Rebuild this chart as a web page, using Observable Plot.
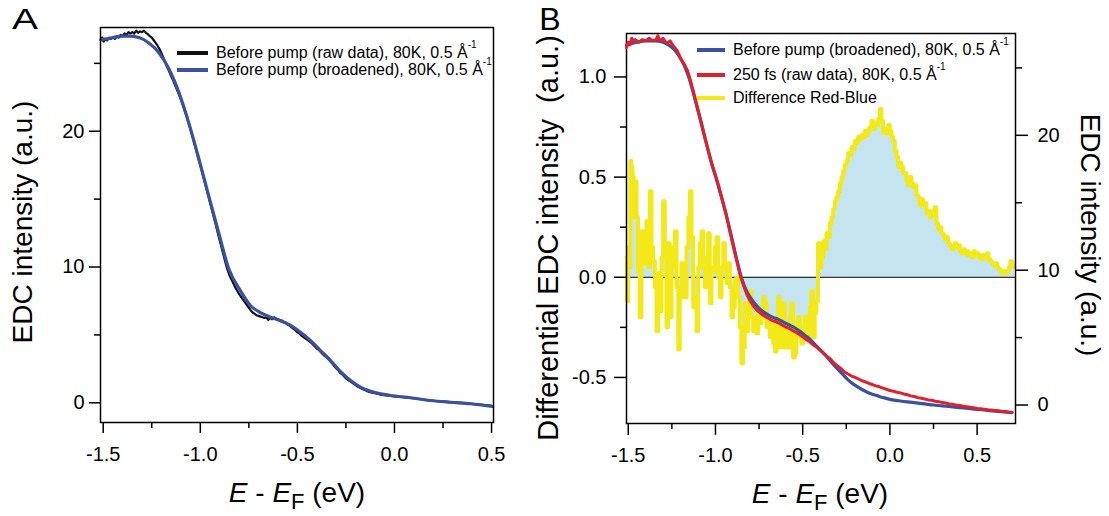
<!DOCTYPE html>
<html><head><meta charset="utf-8">
<script src="https://cdn.jsdelivr.net/npm/d3@7"></script>
<script src="https://cdn.jsdelivr.net/npm/@observablehq/plot@0.6"></script>
<style>
html,body{margin:0;padding:0;background:#fff;}
#wrap{position:relative;width:1109px;height:516px;overflow:hidden;font-family:"Liberation Sans",Arial,sans-serif;color:#000;}
#wrap svg{position:absolute;top:0;}
.t{position:absolute;white-space:pre;line-height:1;}
.sw{position:absolute;height:4px;}
.sup{font-size:10px;position:relative;top:-10px;}
</style></head><body><div id="wrap"></div>
<script>
// ---------- tick values ----------
const xTicks = [-1.5, -1.0, -0.5, 0.0, 0.5];
const xMinorTicks = [-1.25, -0.75, -0.25, 0.25];
const yTicksA = [0, 10, 20];
const yMinorA = [5, 15, 25];
const yTicksBLeft = [-0.5, 0.0, 0.5, 1.0];
const yMinorBLeft = [-0.25, 0.25, 0.75];
const yTicksBRight = [0, 10, 20];
const yMinorBRight = [5, 15, 25];

// ---------- Panel A: before pump raw data (black) ----------
const rawA_E = [-1.512,-1.505,-1.498,-1.49,-1.48,-1.47,-1.46,-1.45,-1.44,-1.43,-1.42,-1.41,-1.40,-1.39,-1.38,-1.37,-1.36,-1.35,-1.34,-1.33,-1.32,-1.31,-1.30,-1.29,-1.28,-1.27,-1.26,-1.25,-1.24,-1.23,-1.22,-1.21,-1.20,-1.19,-1.18,-1.17,-1.16,-1.15,-1.14,-1.13,-1.12,-1.11,-1.10,-1.09,-1.08,-1.07,-1.06,-1.05,-1.04,-1.03,-1.02,-1.01,-1.00,-0.99,-0.98,-0.97,-0.96,-0.95,-0.94,-0.93,-0.92,-0.91,-0.90,-0.89,-0.88,-0.87,-0.86,-0.85,-0.84,-0.83,-0.82,-0.81,-0.80,-0.79,-0.78,-0.77,-0.76,-0.75,-0.74,-0.73,-0.72,-0.71,-0.70,-0.69,-0.68,-0.67,-0.66,-0.65,-0.64,-0.63,-0.62,-0.61,-0.60,-0.59,-0.58,-0.57,-0.56,-0.55,-0.54,-0.53,-0.52,-0.51,-0.50,-0.49,-0.48,-0.47,-0.46,-0.45,-0.44,-0.43,-0.42,-0.41,-0.40,-0.39,-0.38,-0.37,-0.36,-0.35,-0.34,-0.33,-0.32,-0.31,-0.30,-0.29,-0.28,-0.27,-0.26,-0.25,-0.24,-0.23,-0.22,-0.21,-0.20,-0.19,-0.18,-0.17,-0.16,-0.15,-0.14,-0.13,-0.12,-0.10,-0.08,-0.06,-0.04,-0.02,0.0,0.04,0.08,0.12,0.16,0.20,0.24,0.28,0.32,0.36,0.40,0.44,0.48,0.50];
const rawA_I = [26.7,26.9,26.6,26.8,26.7,26.9,26.8,26.9,26.8,27.0,26.9,27.1,27.0,27.2,27.1,27.3,27.2,27.3,27.2,27.4,27.25,27.35,27.3,27.4,27.25,27.15,27.0,26.9,26.7,26.5,26.3,26.05,25.75,25.4,25.05,24.7,24.4,24.05,23.75,23.4,23.05,22.7,22.35,21.95,21.5,21.1,20.6,20.1,19.6,19.05,18.55,18.0,17.5,16.95,16.4,15.85,15.3,14.75,14.2,13.65,13.1,12.5,11.95,11.4,10.85,10.3,9.8,9.4,9.1,8.8,8.5,8.25,8.0,7.8,7.6,7.4,7.2,7.0,6.8,6.65,6.55,6.45,6.4,6.35,6.3,6.25,6.3,6.1,6.25,6.15,6.3,6.2,6.15,6.1,6.05,5.95,5.9,5.75,5.7,5.55,5.45,5.35,5.2,5.1,4.95,4.85,4.75,4.65,4.55,4.45,4.3,4.15,4.0,3.9,3.75,3.6,3.45,3.35,3.2,3.05,2.9,2.7,2.55,2.4,2.2,2.1,1.95,1.8,1.7,1.6,1.5,1.4,1.3,1.2,1.12,1.05,0.98,0.92,0.86,0.8,0.77,0.7,0.63,0.58,0.55,0.5,0.48,0.43,0.37,0.3,0.22,0.15,0.1,0.05,0.02,-0.03,-0.08,-0.13,-0.19,-0.22];

// ---------- Panel A: before pump broadened (blue) ----------
const broadA_E = [-1.512,-1.48,-1.45,-1.40,-1.368,-1.317,-1.265,-1.214,-1.162,-1.110,-1.059,-1.007,-0.956,-0.904,-0.853,-0.793,-0.741,-0.690,-0.638,-0.587,-0.535,-0.484,-0.432,-0.381,-0.329,-0.278,-0.226,-0.175,-0.123,-0.072,-0.020,0.083,0.186,0.289,0.392,0.495,0.505];
const broadA_I = [26.75,26.8,26.9,27.0,27.0,26.9,26.5,25.8,24.6,22.85,20.6,17.95,15.2,12.45,9.85,8.25,7.15,6.65,6.3,6.05,5.7,5.2,4.58,3.85,3.11,2.3,1.64,1.15,0.85,0.66,0.54,0.37,0.17,0.04,-0.07,-0.25,-0.27];

// ---------- Panel B: before pump broadened (blue, right axis) ----------
const broadB_E = [-1.51,-1.45,-1.40,-1.35,-1.30,-1.27,-1.24,-1.21,-1.18,-1.15,-1.12,-1.09,-1.06,-1.03,-1.00,-0.97,-0.94,-0.91,-0.88,-0.85,-0.82,-0.79,-0.76,-0.73,-0.70,-0.67,-0.64,-0.61,-0.58,-0.55,-0.52,-0.49,-0.46,-0.43,-0.40,-0.37,-0.34,-0.31,-0.28,-0.25,-0.22,-0.19,-0.16,-0.13,-0.10,-0.07,-0.04,0.0,0.05,0.10,0.15,0.20,0.25,0.30,0.35,0.40,0.45,0.50,0.55,0.60,0.65,0.70];
const broadB_I = [26.7,26.9,27.0,27.0,26.9,26.7,26.4,25.9,25.2,24.2,22.8,21.3,19.8,18.3,17.0,15.6,14.2,12.6,10.9,9.4,8.4,7.8,7.3,6.95,6.7,6.5,6.35,6.15,5.95,5.75,5.5,5.2,4.9,4.5,4.1,3.7,3.25,2.8,2.4,2.0,1.65,1.38,1.15,0.95,0.8,0.68,0.56,0.42,0.32,0.23,0.16,0.08,0.0,-0.06,-0.13,-0.19,-0.25,-0.32,-0.38,-0.45,-0.51,-0.57];

// ---------- Panel B: 250 fs raw data (red, right axis) ----------
const pumpB_E = [-1.51,-1.50,-1.49,-1.48,-1.47,-1.46,-1.44,-1.42,-1.40,-1.38,-1.36,-1.34,-1.33,-1.32,-1.30,-1.28,-1.26,-1.24,-1.22,-1.20,-1.18,-1.16,-1.14,-1.12,-1.10,-1.08,-1.06,-1.04,-1.02,-1.00,-0.98,-0.96,-0.94,-0.92,-0.90,-0.88,-0.86,-0.84,-0.82,-0.80,-0.78,-0.76,-0.74,-0.72,-0.70,-0.68,-0.66,-0.64,-0.62,-0.60,-0.58,-0.56,-0.54,-0.52,-0.50,-0.48,-0.46,-0.44,-0.42,-0.40,-0.38,-0.36,-0.34,-0.32,-0.30,-0.28,-0.26,-0.24,-0.22,-0.20,-0.18,-0.16,-0.14,-0.12,-0.10,-0.08,-0.06,-0.04,-0.02,0.0,0.02,0.04,0.06,0.08,0.10,0.12,0.14,0.16,0.18,0.20,0.22,0.24,0.26,0.28,0.30,0.32,0.34,0.36,0.38,0.40,0.42,0.44,0.46,0.48,0.50,0.52,0.54,0.56,0.58,0.60,0.62,0.64,0.66,0.68,0.70];
const pumpB_I = [26.5,26.9,26.7,27.2,27.0,27.1,26.9,27.1,27.0,27.2,27.0,27.1,27.4,27.0,27.2,26.8,27.0,26.6,26.3,25.7,25.3,24.8,23.9,22.9,21.9,20.9,19.8,18.8,17.8,17.0,16.2,15.2,14.2,13.0,11.9,10.8,9.7,8.9,8.2,7.7,7.3,7.0,6.8,6.6,6.45,6.3,6.2,6.1,5.95,5.8,5.7,5.55,5.4,5.25,5.05,4.85,4.7,4.45,4.3,4.05,3.85,3.6,3.4,3.1,2.9,2.7,2.45,2.3,2.15,2.05,1.93,1.8,1.72,1.6,1.52,1.42,1.35,1.25,1.17,1.07,1.02,0.95,0.9,0.82,0.76,0.68,0.63,0.55,0.5,0.45,0.38,0.35,0.28,0.25,0.18,0.15,0.08,0.05,0.0,-0.03,-0.09,-0.12,-0.17,-0.2,-0.25,-0.28,-0.31,-0.35,-0.37,-0.4,-0.43,-0.46,-0.48,-0.52,-0.53];

// ---------- Panel B: difference red - blue (yellow, left axis) ----------
const diffB_E = [-1.510,-1.503,-1.497,-1.490,-1.486,-1.479,-1.472,-1.464,-1.457,-1.448,-1.440,-1.429,-1.420,-1.410,-1.400,-1.390,-1.380,-1.371,-1.362,-1.352,-1.343,-1.333,-1.323,-1.314,-1.305,-1.295,-1.286,-1.276,-1.267,-1.257,-1.247,-1.238,-1.228,-1.218,-1.209,-1.200,-1.190,-1.180,-1.171,-1.160,-1.150,-1.142,-1.132,-1.123,-1.113,-1.104,-1.094,-1.085,-1.075,-1.066,-1.056,-1.047,-1.037,-1.028,-1.018,-1.009,-0.999,-0.989,-0.980,-0.970,-0.960,-0.951,-0.941,-0.932,-0.922,-0.913,-0.903,-0.894,-0.885,-0.875,-0.866,-0.856,-0.847,-0.837,-0.827,-0.817,-0.808,-0.798,-0.789,-0.779,-0.770,-0.760,-0.750,-0.741,-0.731,-0.722,-0.712,-0.703,-0.693,-0.684,-0.674,-0.664,-0.655,-0.645,-0.636,-0.627,-0.617,-0.608,-0.598,-0.589,-0.579,-0.570,-0.560,-0.550,-0.540,-0.531,-0.521,-0.511,-0.502,-0.493,-0.483,-0.473,-0.464,-0.455,-0.445,-0.436,-0.426,-0.417,-0.407,-0.397,-0.387,-0.378,-0.368,-0.359,-0.350,-0.340,-0.330,-0.321,-0.311,-0.302,-0.292,-0.282,-0.273,-0.263,-0.254,-0.244,-0.235,-0.225,-0.215,-0.206,-0.197,-0.187,-0.178,-0.168,-0.158,-0.149,-0.139,-0.129,-0.120,-0.110,-0.101,-0.092,-0.082,-0.072,-0.063,-0.053,-0.044,-0.034,-0.025,-0.015,-0.005,0.004,0.014,0.023,0.033,0.043,0.052,0.061,0.071,0.080,0.090,0.100,0.109,0.119,0.128,0.138,0.147,0.157,0.166,0.176,0.186,0.195,0.205,0.214,0.224,0.233,0.243,0.252,0.262,0.272,0.281,0.291,0.300,0.310,0.319,0.329,0.339,0.348,0.358,0.368,0.377,0.387,0.396,0.406,0.415,0.425,0.435,0.444,0.454,0.464,0.473,0.483,0.493,0.502,0.512,0.522,0.531,0.541,0.551,0.560,0.570,0.580,0.590,0.599,0.609,0.619,0.628,0.638,0.648,0.657,0.667,0.677,0.686,0.696,0.705,0.714];
const diffB_D = [0.10,-0.12,0.15,0.05,0.58,0.55,0.50,0.30,0.48,0.30,0.03,-0.20,0.23,0.07,0.15,0.28,0.05,0.43,0.15,0.08,-0.05,-0.27,0.02,-0.17,0.10,0.38,0.12,-0.25,0.17,-0.20,0.05,0.15,0.23,-0.05,-0.36,-0.10,0.07,-0.02,-0.10,0.15,0.30,0.43,0.20,-0.15,-0.10,-0.27,0.05,0.17,0.23,0.05,-0.05,0.10,0.22,-0.13,0.05,0.03,0.15,0.20,0.00,-0.10,0.05,0.17,0.05,-0.03,0.07,-0.05,-0.20,-0.15,-0.02,0.00,-0.10,-0.25,-0.43,-0.35,-0.13,-0.27,-0.20,-0.07,-0.20,-0.27,-0.20,-0.28,-0.15,-0.23,-0.18,-0.10,-0.13,-0.25,-0.22,-0.30,-0.20,-0.33,-0.37,-0.25,-0.10,-0.35,-0.18,-0.13,-0.35,-0.25,-0.35,-0.20,-0.13,-0.40,-0.38,-0.25,-0.20,-0.30,-0.33,-0.25,-0.20,-0.28,-0.30,-0.15,-0.07,-0.30,-0.18,-0.12,0.17,0.05,0.10,0.18,0.14,0.22,0.20,0.27,0.30,0.34,0.38,0.40,0.43,0.47,0.50,0.53,0.56,0.58,0.62,0.61,0.65,0.64,0.68,0.67,0.70,0.69,0.71,0.70,0.73,0.71,0.74,0.75,0.78,0.74,0.77,0.76,0.79,0.84,0.78,0.72,0.74,0.72,0.76,0.73,0.70,0.68,0.63,0.60,0.55,0.57,0.55,0.52,0.52,0.48,0.46,0.50,0.47,0.45,0.46,0.41,0.40,0.36,0.39,0.36,0.37,0.32,0.33,0.30,0.33,0.31,0.35,0.27,0.24,0.25,0.22,0.21,0.19,0.20,0.17,0.16,0.14,0.15,0.17,0.15,0.16,0.13,0.12,0.14,0.12,0.13,0.11,0.12,0.10,0.13,0.11,0.12,0.10,0.11,0.09,0.11,0.10,0.12,0.09,0.08,0.07,0.06,0.07,0.05,0.04,0.03,0.02,0.03,0.02,0.03,0.05,0.08,0.06,0.05];

// ---------- colours ----------
const C_BLACK = "#111111", C_BLUE = "#3a50a2", C_RED = "#e3202a", C_YELLOW = "#f3e918", C_FILL = "#c4e5ef";

const rows = (xs, ys) => xs.map((e, i) => ({e, v: ys[i]}));
const fmt1 = d => d.toFixed(1);
const fmt0 = d => String(d);
const blank = () => "";
const baseStyle = {fontFamily: '"Liberation Sans", Arial, sans-serif', fontSize: "20px", color: "#000", background: "transparent", overflow: "visible"};

const wrap = document.getElementById("wrap");
function put(svg, left) { svg.style.left = left + "px"; wrap.appendChild(svg); }

// ---------- Panel A ----------
const A = Plot.plot({
  width: 520, height: 516,
  marginLeft: 100, marginRight: 27, marginTop: 27, marginBottom: 94,
  x: {domain: [-1.514, 0.51], label: null},
  y: {domain: [-1.45, 27.64], label: null},
  style: baseStyle,
  marks: [
    Plot.line(rows(rawA_E, rawA_I), {x: "e", y: "v", stroke: C_BLACK, strokeWidth: 2.2}),
    Plot.line(rows(broadA_E, broadA_I), {x: "e", y: "v", stroke: C_BLUE, strokeWidth: 3.2, curve: "monotone-x"}),
    Plot.frame({stroke: "#000", strokeWidth: 1.5}),
    Plot.axisX(xTicks, {tickSize: 11, tickPadding: 13, tickFormat: fmt1, strokeWidth: 1.5, label: null}),
    Plot.axisX(xMinorTicks, {tickSize: 6, tickFormat: blank, strokeWidth: 1.5, label: null}),
    Plot.axisY(yTicksA, {tickSize: 11, tickPadding: 5, tickFormat: fmt0, strokeWidth: 1.5, label: null}),
    Plot.axisY(yMinorA, {tickSize: 6, tickFormat: blank, strokeWidth: 1.5, label: null})
  ]
});
put(A, 0);

// ---------- Panel B (left axis: difference) ----------
const BL = Plot.plot({
  width: 589, height: 516,
  marginLeft: 106, marginRight: 94, marginTop: 33, marginBottom: 93,
  x: {domain: [-1.51, 0.72], label: null},
  y: {domain: [-0.73, 1.217], label: null},
  style: baseStyle,
  marks: [
    Plot.areaY(rows(diffB_E, diffB_D), {x: "e", y: "v", fill: C_FILL, curve: "step"}),
    Plot.ruleY([0], {stroke: "#000", strokeWidth: 1}),
    Plot.line(rows(diffB_E, diffB_D), {x: "e", y: "v", stroke: C_YELLOW, strokeWidth: 4, curve: "step"}),
    Plot.frame({stroke: "#000", strokeWidth: 1.5}),
    Plot.axisX(xTicks, {tickSize: 12, tickPadding: 12, tickFormat: fmt1, strokeWidth: 1.5, label: null}),
    Plot.axisX(xMinorTicks, {tickSize: 6, tickFormat: blank, strokeWidth: 1.5, label: null}),
    Plot.axisY(yTicksBLeft, {tickSize: 12, tickPadding: 8, tickFormat: fmt1, strokeWidth: 1.5, label: null}),
    Plot.axisY(yMinorBLeft, {tickSize: 6, tickFormat: blank, strokeWidth: 1.5, label: null})
  ]
});
put(BL, 520);

// ---------- Panel B (right axis: EDC) ----------
const BR = Plot.plot({
  width: 589, height: 516,
  marginLeft: 106, marginRight: 94, marginTop: 33, marginBottom: 93,
  x: {domain: [-1.51, 0.72], axis: null},
  y: {domain: [-1.37, 27.55], label: null},
  style: baseStyle,
  marks: [
    Plot.line(rows(broadB_E, broadB_I), {x: "e", y: "v", stroke: C_BLUE, strokeWidth: 3.2, curve: "monotone-x"}),
    Plot.line(rows(pumpB_E, pumpB_I), {x: "e", y: "v", stroke: C_RED, strokeWidth: 3}),
    Plot.axisY(yTicksBRight, {anchor: "right", tickSize: 12, tickPadding: 10, tickFormat: fmt0, strokeWidth: 1.5, label: null}),
    Plot.axisY(yMinorBRight, {anchor: "right", tickSize: 6, tickFormat: blank, strokeWidth: 1.5, label: null})
  ]
});
put(BR, 520);

// ---------- text overlays ----------
function text(html, x, y, size, opt = {}) {
  const d = document.createElement("div");
  d.className = "t";
  d.innerHTML = html;
  d.style.left = x + "px";
  d.style.top = y + "px";
  d.style.fontSize = size + "px";
  const anchor = opt.anchor === "start" ? "translate(0,-50%)" : "translate(-50%,-50%)";
  d.style.transform = anchor + (opt.rotate ? ` rotate(${opt.rotate}deg)` : "") + (opt.sx ? ` scale(${opt.sx},1)` : "");
  wrap.appendChild(d);
  return d;
}
function swatch(color, x1, x2, y) {
  const d = document.createElement("div");
  d.className = "sw";
  d.style.left = x1 + "px";
  d.style.width = (x2 - x1) + "px";
  d.style.top = (y - 2) + "px";
  d.style.background = color;
  wrap.appendChild(d);
}

text("A", 25, 19, 30, {sx: 1.3});
text("B", 550, 19, 32);

text("EDC intensity (a.u.)", 23, 222, 28, {rotate: -90});
text("Differential EDC intensity  (a.u.)", 548, 238, 29, {rotate: -90});
text("EDC intensity (a.u.)", 1090, 235, 28, {rotate: 90});

const xlab = '<i>E</i> - <i>E</i><span style="font-size:22px;position:relative;top:7px">F</span> (eV)';
text(xlab, 297, 493, 28);
text(xlab, 820, 494, 28);

const supA = '<span class="sup">-1</span>';
swatch(C_BLACK, 177, 208, 52.5);
text("Before pump (raw data), 80K, 0.5 Å" + supA, 216, 52.5, 16, {anchor: "start"});
swatch(C_BLUE, 177, 208, 69.5);
text("Before pump (broadened), 80K, 0.5 Å" + supA, 216, 69.5, 16, {anchor: "start"});

swatch(C_BLUE, 697, 725, 50);
text("Before pump (broadened), 80K, 0.5 Å" + supA, 733, 50, 16, {anchor: "start"});
swatch(C_RED, 697, 725, 75);
text("250 fs (raw data), 80K, 0.5 Å" + supA, 733, 75, 16, {anchor: "start"});
swatch(C_YELLOW, 697, 725, 97.5);
text("Difference Red-Blue", 733, 97.5, 16, {anchor: "start"});
</script>
</body></html>
